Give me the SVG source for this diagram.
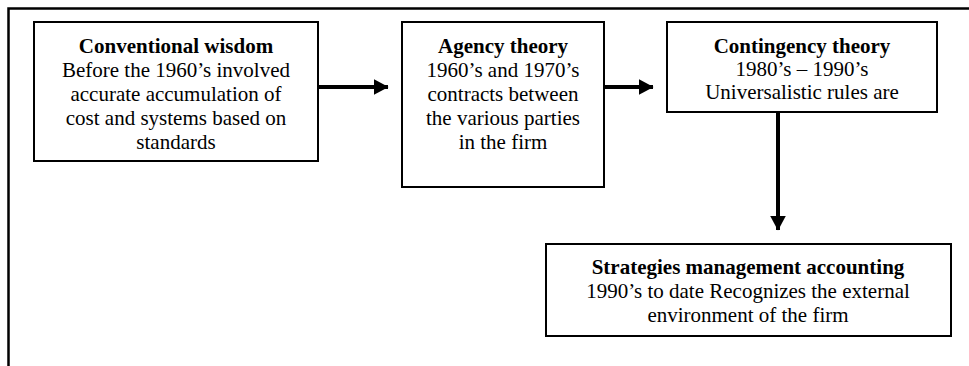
<svg xmlns="http://www.w3.org/2000/svg" width="969" height="366" viewBox="0 0 969 366">
<defs>
<style>
.box{fill:#fff;stroke:#000;stroke-width:2}
.t{font-family:"Liberation Serif","Times New Roman",serif;font-size:21px;fill:#000;text-anchor:middle}
.b{font-weight:bold}
.c{stroke:#000;stroke-width:4;fill:none}
</style>
<marker id="ah" markerWidth="4" markerHeight="4" refX="3.6" refY="2" orient="auto" markerUnits="strokeWidth">
<path d="M0,0 L3.75,2 L0,4 Z" fill="#000"/>
</marker>
</defs>
<rect width="969" height="366" fill="#fff"/>
<g id="frame">
<path d="M8.5,366 L8.5,8.5 L969,8.5" fill="none" stroke="#000" stroke-width="2.5"/>
</g>
<g id="connectors">
<line class="c" x1="318" y1="87" x2="388" y2="87" marker-end="url(#ah)"/>
<line class="c" x1="604" y1="87" x2="653" y2="87" marker-end="url(#ah)"/>
<line class="c" x1="778" y1="112" x2="778" y2="230" marker-end="url(#ah)"/>
</g>
<g id="conventional">
<rect class="box" x="34" y="22" width="284" height="139"/>
<text class="t b" x="176" y="53">Conventional wisdom</text>
<text class="t" x="176" y="77">Before the 1960’s involved</text>
<text class="t" x="176" y="101">accurate accumulation of</text>
<text class="t" x="176" y="125">cost and systems based on</text>
<text class="t" x="176" y="149">standards</text>
</g>
<g id="agency">
<rect class="box" x="402" y="22" width="202" height="165"/>
<text class="t b" x="503" y="53">Agency theory</text>
<text class="t" x="503" y="77">1960’s and 1970’s</text>
<text class="t" x="503" y="101">contracts between</text>
<text class="t" x="503" y="125">the various parties</text>
<text class="t" x="503" y="149">in the firm</text>
</g>
<g id="contingency">
<rect class="box" x="667" y="22" width="270" height="90"/>
<text class="t b" x="802" y="53">Contingency theory</text>
<text class="t" x="802" y="76">1980’s – 1990’s</text>
<text class="t" x="802" y="99">Universalistic rules are</text>
</g>
<g id="strategic">
<rect class="box" x="546" y="244" width="405" height="92"/>
<text class="t b" x="748" y="274">Strategies management accounting</text>
<text class="t" x="748" y="298">1990’s to date Recognizes the external</text>
<text class="t" x="748" y="322">environment of the firm</text>
</g>
</svg>
